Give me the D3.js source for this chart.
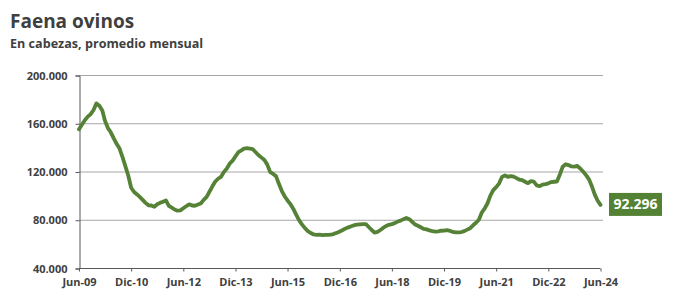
<!DOCTYPE html>
<html><head><meta charset="utf-8">
<script src="https://cdn.jsdelivr.net/npm/d3@7"></script>
<style>
html,body{margin:0;padding:0;background:#fff;}
svg{display:block;font-family:"Open Sans",sans-serif;}
</style></head>
<body><svg id="c" width="683" height="298"></svg>
<script>
// Monthly sheep slaughter (head count, monthly average), Jun-2009 .. Jun-2024
const startMonth = "2009-06";
const values = [
155000,158800,162500,165500,167500,171000,176500,174500,170500,162000,156000,152500,
147500,143000,139000,132000,124500,116500,106500,103000,101000,99000,96500,94000,
92000,91800,90800,92800,94000,95000,96000,91500,90000,88500,87500,87800,
89500,91200,92800,91800,91600,92600,93500,96500,99000,103000,107500,111500,
114000,115500,119500,122500,126500,129000,132500,136000,137500,139000,139300,139000,
138500,136000,133500,131500,129500,125500,119500,118000,116000,110000,104000,99500,
96000,93000,89000,84000,79500,76000,73000,70500,69000,67800,67400,67600,
67200,67500,67400,67600,68300,69300,70300,71500,72800,73700,74600,75500,
75900,76200,76400,76400,74000,71500,69400,70000,71500,73200,74800,75800,
76400,77200,78500,79300,80500,81500,80500,78200,76000,75000,73800,72500,
72000,71200,70600,70200,70400,70900,71000,71400,70800,69900,69500,69600,
69800,70600,71800,73000,75400,77500,80000,86000,89500,93500,100000,104500,
107000,110000,115500,116800,115600,116200,115800,114500,113200,112800,111500,110300,
112000,111600,108500,107800,109200,109600,110200,111200,111500,111600,117500,124000,
126000,125300,124200,124000,124600,122500,120000,117000,113500,108000,101000,96000,
92296];
const xTickLabels = ["Jun-09","Dic-10","Jun-12","Dic-13","Jun-15","Dic-16","Jun-18","Dic-19","Jun-21","Dic-22","Jun-24"];
const xTickMonths = [0,18,36,54,72,90,108,126,144,162,180];
const yTicks = [40000,80000,120000,160000,200000];
const title = "Faena ovinos";
const subtitle = "En cabezas, promedio mensual";
const lastLabel = "92.296";

const svg = d3.select("#c");
const t0 = d3.timeParse("%Y-%m")(startMonth);
const data = values.map((v,i)=>({d:d3.timeMonth.offset(t0,i), v}));

const x = d3.scaleTime().domain([t0, d3.timeMonth.offset(t0,180)]).range([79,600.5]);
const y = d3.scaleLinear().domain([40000,200000]).range([268,75]);

// title
svg.append("text").attr("x",10).attr("y",28).attr("fill","#3f3f3f")
  .attr("font-size",19).attr("font-weight",700).text(title);
svg.append("text").attr("x",10).attr("y",48).attr("fill","#3f3f3f")
  .attr("font-size",12.6).attr("font-weight",700).text(subtitle);

// gridlines
svg.append("g").selectAll("line").data(yTicks.filter(v=>v>40000)).join("line")
  .attr("x1",79).attr("x2",603).attr("y1",d=>y(d)+0.5).attr("y2",d=>y(d)+0.5)
  .attr("stroke","#a6a6a6").attr("stroke-width",1);

// y axis
const yAxis = d3.axisLeft(y).tickValues(yTicks).tickSize(4).tickPadding(8)
  .tickFormat(d=>d3.format(",")(d).replace(/,/g,"."));
const gy = svg.append("g").attr("transform","translate(79.5,0.5)").call(yAxis);
gy.select(".domain").attr("stroke","#595959");
gy.selectAll(".tick line").attr("stroke","#595959");
gy.selectAll(".tick text").attr("fill","#404040").attr("font-size",11).attr("font-weight",700)
  .attr("font-family","'Open Sans',sans-serif");

// x axis
const xAxis = d3.axisBottom(x).tickValues(xTickMonths.map(m=>d3.timeMonth.offset(t0,m)))
  .tickSize(3).tickPadding(7).tickFormat((d,i)=>xTickLabels[i]);
const gx = svg.append("g").attr("transform","translate(0,268.5)").call(xAxis);
gx.select(".domain").attr("stroke","#595959").attr("d","M79,0H600.5");
gx.selectAll(".tick line").attr("stroke","#595959");
gx.selectAll(".tick text").attr("fill","#404040").attr("font-size",11).attr("font-weight",700)
  .attr("font-family","'Open Sans',sans-serif");

// line
const line = d3.line().x(d=>x(d.d)).y(d=>y(d.v)).curve(d3.curveLinear);
svg.append("path").datum(data).attr("d",line).attr("fill","none")
  .attr("stroke","#558236").attr("stroke-width",3.8).attr("stroke-linejoin","round").attr("stroke-linecap","round");

// end label
const last = data[data.length-1];
const ly = y(last.v);
const bx = 609, bw = 53, bh = 23;
svg.append("rect").attr("x",bx).attr("y",ly-12).attr("width",bw).attr("height",bh).attr("fill","#548235");
svg.append("text").attr("x",bx+bw/2).attr("y",ly-0.5).attr("dy","0.35em").attr("text-anchor","middle")
  .attr("fill","#fff").attr("font-size",14).attr("font-weight",700).text(lastLabel);
</script></body></html>
